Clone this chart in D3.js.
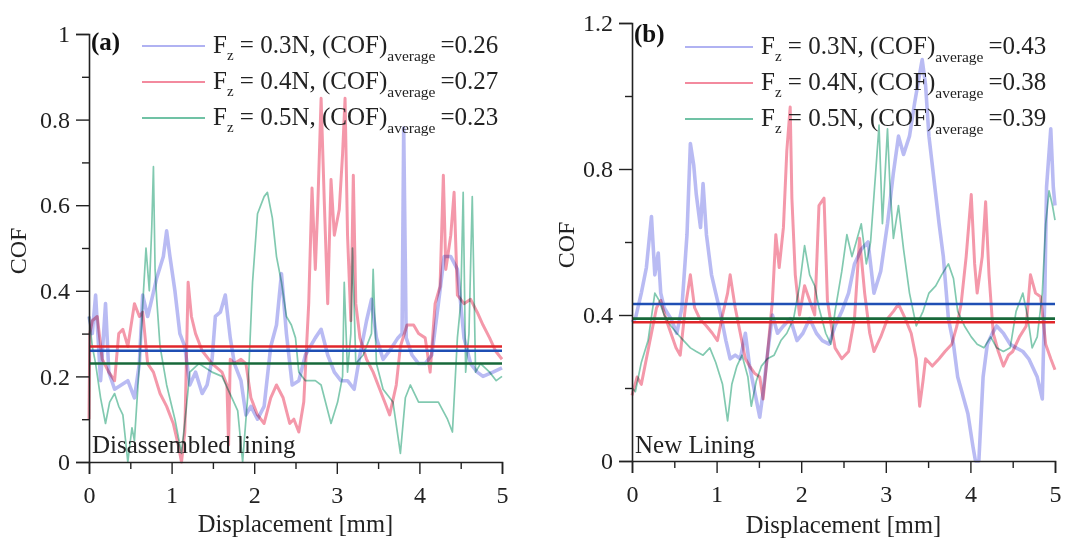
<!DOCTYPE html>
<html><head><meta charset="utf-8">
<script src="https://cdn.jsdelivr.net/npm/d3@7"></script>
<style>
html,body{margin:0;padding:0;background:#fff;}
svg{display:block;font-family:"Liberation Serif","Times New Roman",serif;}
</style></head>
<body>
<svg id="c" width="1078" height="539"></svg>
<script>
// ---------- DATA ----------
const xTicks = [0,1,2,3,4,5];
const xMinor = [0.5,1.5,2.5,3.5,4.5];
const yTicksA = [0,0.2,0.4,0.6,0.8,1];
const yMinorA = [0.1,0.3,0.5,0.7,0.9];
const yTicksB = [0,0.4,0.8,1.2];
const yMinorB = [0.2,0.6,1.0];
const loads = ["0.3N","0.4N","0.5N"];
const avgA = [0.26,0.27,0.23];
const avgB = [0.43,0.38,0.39];

const a03 = [[0,0.34],[0.04,0.3],[0.08,0.39],[0.14,0.19],[0.2,0.37],[0.24,0.21],[0.31,0.17],[0.39,0.18],[0.47,0.19],[0.55,0.15],[0.61,0.23],[0.65,0.39],[0.71,0.34],[0.76,0.38],[0.82,0.43],[0.9,0.48],[0.94,0.54],[0.98,0.48],[1.04,0.4],[1.1,0.3],[1.16,0.27],[1.22,0.18],[1.29,0.21],[1.37,0.16],[1.43,0.18],[1.49,0.24],[1.53,0.34],[1.59,0.35],[1.65,0.39],[1.71,0.29],[1.76,0.23],[1.84,0.19],[1.9,0.11],[1.96,0.13],[2.04,0.1],[2.12,0.13],[2.2,0.27],[2.27,0.32],[2.33,0.44],[2.39,0.3],[2.46,0.18],[2.54,0.19],[2.62,0.25],[2.74,0.29],[2.81,0.31],[2.89,0.25],[2.97,0.21],[3.05,0.19],[3.13,0.19],[3.21,0.17],[3.28,0.25],[3.36,0.33],[3.42,0.38],[3.48,0.29],[3.56,0.24],[3.64,0.26],[3.74,0.29],[3.79,0.3],[3.81,0.78],[3.84,0.29],[3.91,0.25],[3.99,0.23],[4.07,0.23],[4.15,0.25],[4.23,0.37],[4.3,0.48],[4.38,0.48],[4.46,0.45],[4.54,0.29],[4.62,0.23],[4.7,0.21],[4.77,0.2],[4.89,0.21],[5,0.22]];
const a04 = [[0,0.1],[0.01,0.3],[0.04,0.33],[0.1,0.34],[0.16,0.24],[0.24,0.21],[0.31,0.19],[0.36,0.3],[0.41,0.31],[0.47,0.27],[0.55,0.37],[0.61,0.34],[0.65,0.35],[0.71,0.23],[0.78,0.21],[0.86,0.16],[0.94,0.13],[1.02,0.09],[1.08,0.04],[1.12,0.0],[1.16,0.07],[1.2,0.42],[1.24,0.34],[1.29,0.3],[1.37,0.26],[1.49,0.23],[1.61,0.21],[1.67,0.18],[1.69,0.04],[1.71,0.24],[1.76,0.23],[1.84,0.24],[1.9,0.23],[1.96,0.15],[2.04,0.11],[2.12,0.09],[2.2,0.15],[2.27,0.18],[2.35,0.15],[2.43,0.09],[2.48,0.1],[2.54,0.07],[2.6,0.14],[2.66,0.37],[2.7,0.64],[2.74,0.45],[2.77,0.6],[2.81,0.85],[2.85,0.6],[2.89,0.37],[2.93,0.66],[2.97,0.53],[3.03,0.59],[3.07,0.72],[3.1,0.85],[3.13,0.53],[3.17,0.33],[3.2,0.67],[3.23,0.37],[3.28,0.29],[3.36,0.24],[3.44,0.21],[3.52,0.17],[3.58,0.14],[3.64,0.11],[3.72,0.18],[3.77,0.27],[3.85,0.32],[3.93,0.32],[3.99,0.3],[4.07,0.29],[4.13,0.21],[4.19,0.37],[4.25,0.41],[4.29,0.67],[4.32,0.45],[4.38,0.53],[4.42,0.63],[4.46,0.39],[4.54,0.37],[4.62,0.38],[4.7,0.35],[4.77,0.32],[4.85,0.29],[4.92,0.26],[5,0.24]];
const a05 = [[0,0.34],[0.04,0.27],[0.08,0.23],[0.14,0.15],[0.2,0.09],[0.25,0.14],[0.31,0.16],[0.36,0.13],[0.41,0.11],[0.47,0.0],[0.52,0.08],[0.55,0.05],[0.61,0.23],[0.66,0.4],[0.69,0.5],[0.73,0.4],[0.76,0.55],[0.78,0.69],[0.8,0.45],[0.82,0.38],[0.86,0.27],[0.94,0.18],[1.04,0.1],[1.12,0.02],[1.18,0.13],[1.22,0.21],[1.33,0.23],[1.49,0.21],[1.61,0.2],[1.73,0.15],[1.8,0.12],[1.86,0.0],[1.92,0.15],[1.98,0.42],[2.04,0.58],[2.12,0.62],[2.16,0.63],[2.22,0.57],[2.27,0.48],[2.33,0.42],[2.39,0.34],[2.45,0.32],[2.5,0.29],[2.54,0.21],[2.62,0.19],[2.74,0.19],[2.81,0.18],[2.93,0.09],[3.01,0.14],[3.07,0.2],[3.09,0.42],[3.13,0.21],[3.17,0.3],[3.19,0.5],[3.23,0.23],[3.32,0.25],[3.42,0.3],[3.44,0.45],[3.48,0.23],[3.56,0.17],[3.68,0.14],[3.77,0.02],[3.83,0.15],[3.89,0.18],[3.99,0.14],[4.11,0.14],[4.23,0.14],[4.34,0.1],[4.4,0.07],[4.46,0.29],[4.5,0.37],[4.53,0.63],[4.56,0.21],[4.6,0.3],[4.64,0.62],[4.68,0.21],[4.74,0.23],[4.85,0.21],[4.93,0.19],[5,0.2]];

const b03 = [[0,0.38],[0.04,0.39],[0.11,0.46],[0.17,0.53],[0.23,0.67],[0.27,0.51],[0.31,0.57],[0.34,0.46],[0.38,0.42],[0.46,0.39],[0.53,0.35],[0.59,0.42],[0.65,0.62],[0.69,0.87],[0.73,0.81],[0.76,0.73],[0.81,0.64],[0.84,0.76],[0.88,0.62],[0.94,0.51],[0.99,0.46],[1.05,0.4],[1.11,0.33],[1.16,0.28],[1.22,0.29],[1.28,0.28],[1.34,0.35],[1.39,0.26],[1.45,0.19],[1.51,0.12],[1.55,0.19],[1.6,0.29],[1.66,0.4],[1.72,0.35],[1.79,0.37],[1.87,0.39],[1.95,0.33],[2.02,0.35],[2.1,0.39],[2.18,0.35],[2.25,0.33],[2.33,0.32],[2.4,0.37],[2.48,0.41],[2.56,0.46],[2.63,0.54],[2.71,0.58],[2.79,0.6],[2.86,0.46],[2.94,0.52],[3.02,0.65],[3.09,0.79],[3.15,0.89],[3.21,0.84],[3.28,0.89],[3.34,0.98],[3.43,1.1],[3.47,1.03],[3.51,0.89],[3.57,0.77],[3.63,0.65],[3.68,0.56],[3.74,0.39],[3.8,0.32],[3.85,0.23],[3.91,0.18],[3.97,0.13],[4.03,0.04],[4.06,0.0],[4.1,0.0],[4.15,0.23],[4.2,0.32],[4.26,0.35],[4.31,0.37],[4.39,0.35],[4.47,0.32],[4.54,0.31],[4.62,0.3],[4.69,0.28],[4.79,0.23],[4.85,0.17],[4.88,0.46],[4.9,0.75],[4.95,0.91],[4.98,0.75],[5,0.7]];
const b04 = [[0,0.18],[0.06,0.23],[0.11,0.21],[0.17,0.28],[0.23,0.35],[0.29,0.42],[0.34,0.44],[0.4,0.39],[0.46,0.35],[0.52,0.31],[0.57,0.29],[0.63,0.42],[0.69,0.51],[0.74,0.42],[0.8,0.39],[0.88,0.37],[0.95,0.35],[1.01,0.33],[1.07,0.4],[1.13,0.46],[1.16,0.51],[1.22,0.42],[1.28,0.35],[1.34,0.28],[1.39,0.26],[1.45,0.24],[1.51,0.23],[1.55,0.17],[1.6,0.29],[1.66,0.44],[1.7,0.62],[1.74,0.53],[1.79,0.64],[1.83,0.85],[1.87,0.97],[1.89,0.72],[1.93,0.51],[1.98,0.4],[2.04,0.48],[2.1,0.44],[2.16,0.4],[2.21,0.7],[2.27,0.72],[2.31,0.44],[2.37,0.35],[2.4,0.31],[2.48,0.28],[2.56,0.3],[2.63,0.39],[2.69,0.61],[2.75,0.46],[2.81,0.35],[2.86,0.3],[2.94,0.34],[3.02,0.39],[3.09,0.41],[3.15,0.43],[3.23,0.39],[3.3,0.35],[3.36,0.28],[3.4,0.15],[3.44,0.22],[3.47,0.28],[3.55,0.26],[3.63,0.28],[3.7,0.3],[3.78,0.32],[3.84,0.37],[3.89,0.43],[3.95,0.56],[4.01,0.73],[4.05,0.54],[4.08,0.46],[4.14,0.56],[4.18,0.71],[4.22,0.51],[4.27,0.35],[4.33,0.3],[4.39,0.26],[4.45,0.29],[4.5,0.3],[4.58,0.34],[4.66,0.37],[4.71,0.51],[4.77,0.46],[4.83,0.45],[4.89,0.32],[4.95,0.28],[5,0.25]];
const b05 = [[0,0.2],[0.04,0.19],[0.11,0.27],[0.19,0.33],[0.27,0.46],[0.32,0.44],[0.38,0.4],[0.46,0.37],[0.53,0.35],[0.61,0.33],[0.69,0.31],[0.76,0.3],[0.84,0.29],[0.92,0.31],[0.99,0.27],[1.07,0.21],[1.13,0.11],[1.18,0.21],[1.24,0.26],[1.3,0.29],[1.37,0.23],[1.41,0.15],[1.47,0.22],[1.53,0.26],[1.6,0.28],[1.68,0.29],[1.76,0.33],[1.83,0.35],[1.91,0.39],[1.98,0.48],[2.04,0.59],[2.1,0.51],[2.16,0.48],[2.21,0.42],[2.29,0.35],[2.35,0.32],[2.4,0.41],[2.48,0.52],[2.54,0.62],[2.6,0.56],[2.65,0.6],[2.71,0.65],[2.77,0.54],[2.82,0.6],[2.88,0.79],[2.92,0.92],[2.96,0.65],[3.02,0.91],[3.05,0.75],[3.09,0.61],[3.15,0.7],[3.21,0.58],[3.28,0.46],[3.36,0.37],[3.44,0.41],[3.51,0.46],[3.59,0.48],[3.66,0.51],[3.74,0.54],[3.8,0.5],[3.85,0.41],[3.93,0.37],[4.01,0.34],[4.08,0.32],[4.16,0.31],[4.24,0.34],[4.31,0.31],[4.39,0.3],[4.47,0.31],[4.54,0.41],[4.62,0.46],[4.68,0.39],[4.73,0.31],[4.79,0.34],[4.85,0.46],[4.89,0.65],[4.93,0.74],[4.97,0.7],[5,0.66]];

// ---------- STYLE ----------
const seriesColors = ["#b0b2f2","#f38a9e","#70c2a5"];
const seriesWidths = [3.6,3,1.7];
const avgColors = ["#1f4fb4","#e0262a","#17683a"];
const FONT = 24;
const FONT_L = 25;

const svg = d3.select("#c");

function panel(cfg){
  const x = d3.scaleLinear().domain([0,5]).range(cfg.xr);
  const y = d3.scaleLinear().domain(cfg.yd).range(cfg.yr);
  const g = svg.append("g");

  const line = d3.line().x(d=>x(d[0])).y(d=>y(d[1]));
  cfg.series.forEach((s,i)=>{
    g.append("path").attr("d",line(s)).attr("fill","none")
      .attr("stroke",seriesColors[i]).attr("stroke-width",seriesWidths[i])
      .attr("stroke-linejoin","round").attr("opacity",0.88)
      .style("mix-blend-mode","multiply");
  });
  cfg.avgOrder.forEach(i=>{
    g.append("line").attr("x1",x(0)).attr("x2",x(5))
      .attr("y1",y(cfg.avg[i])).attr("y2",y(cfg.avg[i]))
      .attr("stroke",avgColors[i]).attr("stroke-width",2.6);
  });

  const ax = g.append("g").attr("transform",`translate(0,${y(0)})`)
    .call(d3.axisBottom(x).tickValues(xTicks).tickSize(12).tickPadding(6).tickFormat(d3.format("d")));
  g.append("g").attr("transform",`translate(0,${y(0)})`)
    .call(d3.axisBottom(x).tickValues(xMinor).tickSize(7).tickFormat(""))
    .select(".domain").remove();
  g.append("g").attr("transform",`translate(${x(0)},0)`)
    .call(d3.axisLeft(y).tickValues(cfg.yt).tickSize(13).tickPadding(6).tickFormat(d=>String(+d.toFixed(1))));
  g.append("g").attr("transform",`translate(${x(0)},0)`)
    .call(d3.axisLeft(y).tickValues(cfg.ym).tickSize(7).tickFormat(""))
    .select(".domain").remove();
  g.selectAll(".domain").attr("stroke","#222").attr("stroke-width",1.6);
  g.selectAll(".tick line").attr("stroke","#222").attr("stroke-width",1.4);
  g.selectAll(".tick text").attr("font-family","Liberation Serif").attr("font-size",FONT).attr("fill","#222");
  ax.selectAll(".tick text").attr("dy","0.95em");

  g.append("text").attr("x",(cfg.xr[0]+cfg.xr[1])/2).attr("y",cfg.xlabY)
    .attr("text-anchor","middle").attr("font-size",24.5).attr("fill","#222").text("Displacement [mm]");
  g.append("text").attr("transform",`translate(${cfg.ylabX},${cfg.ylabY}) rotate(-90)`)
    .attr("text-anchor","middle").attr("font-size",FONT).attr("fill","#222").text("COF");

  g.append("text").attr("x",x(0)+2).attr("y",cfg.tagY).attr("font-size",25)
    .attr("font-weight","bold").attr("fill","#111").text(cfg.tag);
  g.append("text").attr("x",x(0)+3).attr("y",cfg.noteY).attr("font-size",FONT_L)
    .attr("fill","#222").text(cfg.note);

  cfg.avg.forEach((v,i)=>{
    const ly = cfg.legY + i*36;
    g.append("line").attr("x1",cfg.legX).attr("x2",cfg.legX+cfg.legLen)
      .attr("y1",ly).attr("y2",ly).attr("stroke",seriesColors[i]).attr("stroke-width",1.8);
    const t = g.append("text").attr("x",cfg.legX+cfg.legLen+8).attr("y",ly+7)
      .attr("font-size",FONT_L).attr("fill","#222");
    t.append("tspan").text("F");
    t.append("tspan").attr("dy",7).attr("font-size",15).text("z");
    t.append("tspan").attr("dy",-7).text(` = ${loads[i]}, (COF)`);
    t.append("tspan").attr("dy",8).attr("font-size",15.5).text("average");
    t.append("tspan").attr("dy",-8).text(`\u2009=${v.toFixed(2)}`);
  });
}

panel({xr:[89,502], yd:[0,1], yr:[462,34], yt:yTicksA, ym:yMinorA,
  series:[a03,a04,a05], avg:avgA, avgOrder:[2,0,1],
  xlabY:532, ylabX:26, ylabY:251, tag:"(a)", tagY:50, note:"Disassembled lining", noteY:453,
  legX:142, legLen:63, legY:46});
panel({xr:[632,1055], yd:[0,1.2], yr:[461,23], yt:yTicksB, ym:yMinorB,
  series:[b03,b04,b05], avg:avgB, avgOrder:[0,1,2],
  xlabY:533, ylabX:574, ylabY:245, tag:"(b)", tagY:42, note:"New Lining", noteY:453,
  legX:685, legLen:68, legY:47});
</script>
</body></html>
